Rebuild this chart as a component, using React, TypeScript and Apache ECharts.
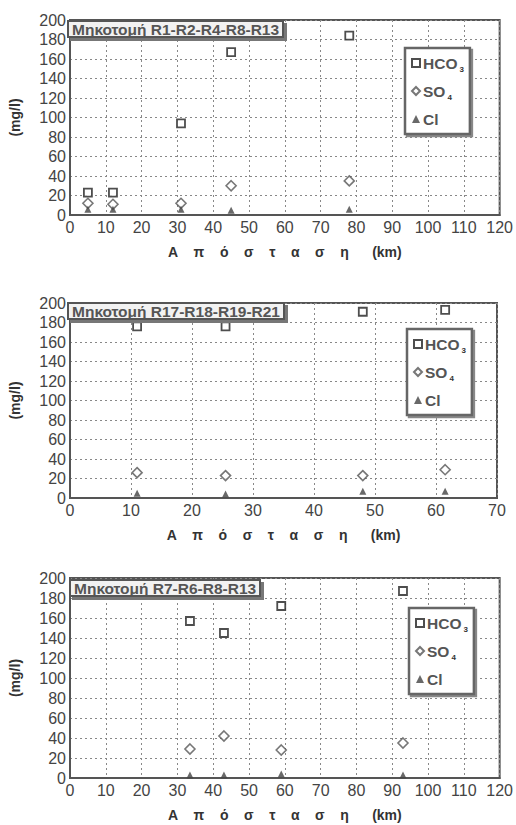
import React, { useEffect, useRef } from "react";
import * as echarts from "echarts";

// Chart 1: Μηκοτομή R1-R2-R4-R8-R13
const dist1 = [5, 12, 31, 45, 78];
const hco1 = [23, 23, 94, 167, 184];
const so1 = [12, 11, 12, 30, 35];
const cl1 = [6, 6, 6, 5, 6];

// Chart 2: Μηκοτομή R17-R18-R19-R21
const dist2 = [11, 25.5, 48, 61.5];
const hco2 = [176, 176, 191, 193];
const so2 = [26, 23, 23, 29];
const cl2 = [5, 4, 7, 7];

// Chart 3: Μηκοτομή R7-R6-R8-R13
const dist3 = [33.5, 43, 59, 93];
const hco3 = [157, 145, 172, 187];
const so3 = [29, 42, 28, 35];
const cl3 = [3, 3, 4, 3];

const titles = [
  "Μηκοτομή R1-R2-R4-R8-R13",
  "Μηκοτομή R17-R18-R19-R21",
  "Μηκοτομή R7-R6-R8-R13",
];
const xMax = [120, 70, 120];
const seriesNames = ["HCO3", "SO4", "Cl"];
const xName = "Α    π    ό    σ    τ    α    σ    η      (km)";
const yName = "(mg/l)";

const FONT = "Liberation Sans, Arial, sans-serif";

export default function App() {
  const ref = useRef<HTMLDivElement>(null);
  useEffect(() => {
    if (!ref.current) return;
    const chart = echarts.init(ref.current, null, { renderer: "svg" });
    const grids = [
      { left: 67, top: 20, width: 433, height: 195 },
      { left: 67, top: 303, width: 430, height: 195 },
      { left: 67, top: 578, width: 433, height: 200 },
    ];
    const datasets = [
      [dist1, hco1, so1, cl1],
      [dist2, hco2, so2, cl2],
      [dist3, hco3, so3, cl3],
    ];
    const legendPos = [
      { left: 405, top: 48 },
      { left: 407, top: 329 },
      { left: 409, top: 608 },
    ];
    const titlePos = [
      { left: 68, top: 21 },
      { left: 68, top: 303 },
      { left: 70, top: 580 },
    ];
    const series: any[] = [];
    datasets.forEach((d, gi) => {
      const [xs, h, s, c] = d;
      const mk = (vals: number[]) => xs.map((x, i) => [x, vals[i]]);
      series.push({
        name: "HCO3",
        type: "scatter",
        xAxisIndex: gi,
        yAxisIndex: gi,
        symbol: "rect",
        symbolSize: 8,
        itemStyle: { color: "#fff", borderColor: "#222", borderWidth: 1.8 },
        data: mk(h),
      });
      series.push({
        name: "SO4",
        type: "scatter",
        xAxisIndex: gi,
        yAxisIndex: gi,
        symbol: "diamond",
        symbolSize: 10,
        itemStyle: { color: "#fff", borderColor: "#555", borderWidth: 1.6 },
        data: mk(s),
      });
      series.push({
        name: "Cl",
        type: "scatter",
        xAxisIndex: gi,
        yAxisIndex: gi,
        symbol: "triangle",
        symbolSize: 7,
        itemStyle: { color: "#444" },
        data: mk(c),
      });
    });
    const option: any = {
      animation: false,
      backgroundColor: "#fff",
      title: titles.map((t, i) => ({
        text: t,
        ...titlePos[i],
        backgroundColor: "#f2f2f2",
        borderColor: "#555",
        borderWidth: 2,
        padding: [0, 4, 0, 4],
        shadowColor: "#777",
        shadowBlur: 1,
        shadowOffsetX: 3,
        shadowOffsetY: 3,
        textStyle: {
          fontFamily: FONT,
          fontSize: 15.5,
          fontWeight: "bold",
          color: "#555",
        },
      })),
      legend: legendPos.map((p) => ({
        ...p,
        orient: "vertical",
        data: seriesNames,
        itemWidth: 8,
        itemHeight: 8,
        itemGap: 10,
        padding: [7, 6, 7, 6],
        backgroundColor: "#fff",
        borderColor: "#666",
        borderWidth: 2.5,
        shadowColor: "#888",
        shadowBlur: 1,
        shadowOffsetX: 2,
        shadowOffsetY: 2,
        selectedMode: false,
        formatter: (n: string) =>
          n === "HCO3" ? "HCO{s|3}" : n === "SO4" ? "SO{s|4}" : "Cl",
        textStyle: {
          fontFamily: FONT,
          fontSize: 15.5,
          fontWeight: "bold",
          color: "#555",
          padding: [0, 0, 0, -2],
          rich: {
            s: {
              fontFamily: FONT,
              fontSize: 8,
              fontWeight: "bold",
              color: "#333",
              padding: [12, 0, 0, 2],
            },
          },
        },
      })),
      grid: grids.map((g) => ({
        ...g,
        show: true,
        borderColor: "#555",
        borderWidth: 2,
        backgroundColor: "transparent",
      })),
      xAxis: grids.map((_, i) => ({
        type: "value",
        gridIndex: i,
        min: 0,
        max: xMax[i],
        interval: 10,
        name: xName,
        nameLocation: "middle",
        nameGap: 30,
        nameTextStyle: {
          fontFamily: FONT,
          fontSize: 14,
          fontWeight: "bold",
          color: "#333",
        },
        axisLine: { show: true, lineStyle: { color: "#555", width: 2 } },
        axisTick: { show: false },
        axisLabel: {
          fontFamily: FONT,
          fontSize: 16,
          color: "#444",
          margin: 4,
        },
        splitLine: {
          show: true,
          lineStyle: { color: "#888", type: [2, 3], width: 1 },
        },
      })),
      yAxis: grids.map((_, i) => ({
        type: "value",
        gridIndex: i,
        min: 0,
        max: 200,
        interval: 20,
        name: yName,
        nameLocation: "middle",
        nameGap: 48,
        nameTextStyle: {
          fontFamily: FONT,
          fontSize: 14,
          fontWeight: "bold",
          color: "#333",
        },
        axisLine: { show: true, lineStyle: { color: "#555", width: 2 } },
        axisTick: { show: false },
        axisLabel: {
          fontFamily: FONT,
          fontSize: 16,
          color: "#444",
          margin: 4,
        },
        splitLine: {
          show: true,
          lineStyle: { color: "#888", type: [2, 3], width: 1 },
        },
      })),
      series,
    };
    chart.setOption(option);
    return () => chart.dispose();
  }, []);
  return (
    <div
      ref={ref}
      style={{ position: "fixed", left: 0, top: 0, width: 516, height: 825 }}
    />
  );
}
